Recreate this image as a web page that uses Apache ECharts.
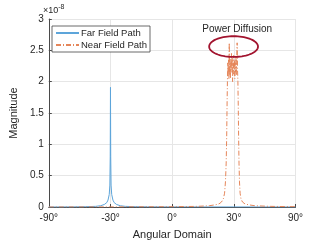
<!DOCTYPE html>
<html>
<head>
<meta charset="utf-8">
<script src="https://cdn.jsdelivr.net/npm/echarts@6/dist/echarts.min.js"></script>
<style>
html,body{margin:0;padding:0;background:#fff;}
#c{width:327px;height:245px;}
</style>
</head>
<body>
<div id="c"></div>
<script>
// x positions are in sin(angle) domain; magnitudes in units of 1e-8
const farX = [-1.0,-0.8,-0.7,-0.62,-0.58,-0.55,-0.53,-0.52,-0.51,-0.505,-0.502,-0.5,-0.498,-0.495,-0.49,-0.48,-0.47,-0.45,-0.42,-0.38,-0.3,-0.2,0.0,0.5,1.0];
const farY = [0.0,0.002,0.005,0.01,0.02,0.04,0.07,0.11,0.2,0.35,0.8,1.91,0.8,0.35,0.2,0.11,0.07,0.04,0.02,0.01,0.005,0.003,0.001,0.001,0.0];

const nearX = [-1.0,-0.5,0.0,0.2,0.3,0.35,0.38,0.4,0.415,0.425,0.432,0.438,0.442,0.445,0.448,0.451,0.454,0.457,0.46,0.463,0.466,0.469,0.472,0.475,0.478,0.481,0.484,0.487,0.49,0.493,0.496,0.499,0.502,0.505,0.508,0.511,0.514,0.517,0.52,0.523,0.527,0.53,0.533,0.536,0.539,0.542,0.546,0.551,0.558,0.57,0.59,0.62,0.67,0.8,1.0];
const nearY = [0.0,0.002,0.005,0.01,0.02,0.035,0.05,0.08,0.13,0.22,0.4,0.7,1.1,1.6,2.0,2.3,2.1,2.35,2.05,2.62,2.1,2.4,2.05,2.3,2.15,2.45,2.2,2.38,2.0,2.3,2.12,2.42,2.18,2.35,2.05,2.3,2.15,2.42,2.1,2.3,2.62,2.2,2.0,1.6,1.1,0.7,0.4,0.22,0.13,0.08,0.05,0.035,0.02,0.01,0.005];

const xTickValues = [-1, -0.5, 0, 0.5, 1];
const xTickLabels = ['-90°', '-30°', '0°', '30°', '90°'];
const yTickLabels = ['0', '0.5', '1', '1.5', '2', '2.5', '3'];

const seriesNames = ['Far Field Path', 'Near Field Path'];
const annotation = {text: 'Power Diffusion', textX: 0.527, textY: 2.84, cx: 0.498, cy: 2.56, rx: 0.198, ry: 0.165};

const farData = farX.map((x, i) => [x, farY[i]]);
const nearData = nearX.map((x, i) => [x, nearY[i]]);

const chart = echarts.init(document.getElementById('c'), null, {renderer: 'canvas'});
const FONT = 'Liberation Sans, Arial, sans-serif';
const TXT = '#262626';

chart.setOption({
  animation: false,
  backgroundColor: '#fff',
  grid: {left: 43, right: 31.5, top: 19, bottom: 35, containLabel: false},
  legend: {
    data: seriesNames,
    orient: 'vertical',
    left: 52, top: 26,
    padding: [2, 3, 2, 3],
    itemWidth: 23, itemHeight: 8, itemGap: 2,
    backgroundColor: '#fff',
    borderColor: '#444', borderWidth: 0.8,
    itemStyle: {opacity: 0},
    textStyle: {fontFamily: FONT, fontSize: 9.5, color: TXT, padding: [0, 0, 0, -3]}
  },
  xAxis: {
    type: 'value', min: -1, max: 1, interval: 0.5,
    name: 'Angular Domain', nameLocation: 'middle', nameGap: 22,
    nameTextStyle: {fontFamily: FONT, fontSize: 11, color: TXT},
    axisLine: {onZero: false, lineStyle: {color: '#4a4a4a', width: 1}},
    axisTick: {inside: true, length: 3, lineStyle: {color: '#4a4a4a'}},
    axisLabel: {fontFamily: FONT, fontSize: 10, color: TXT, margin: 6,
      formatter: v => { const i = xTickValues.findIndex(t => Math.abs(t - v) < 1e-9); return i >= 0 ? xTickLabels[i] : ''; }},
    splitLine: {show: true, lineStyle: {color: '#e6e6e6', width: 1}}
  },
  yAxis: {
    type: 'value', min: 0, max: 3, interval: 0.5,
    name: 'Magnitude', nameLocation: 'middle', nameGap: 24,
    nameTextStyle: {fontFamily: FONT, fontSize: 11, color: TXT},
    axisLine: {show: true, onZero: false, lineStyle: {color: '#4a4a4a', width: 1}},
    axisTick: {show: true, inside: true, length: 3, lineStyle: {color: '#4a4a4a'}},
    axisLabel: {fontFamily: FONT, fontSize: 10, color: TXT, margin: 5,
      formatter: v => yTickLabels[Math.round(v / 0.5)]},
    splitLine: {show: true, lineStyle: {color: '#e6e6e6', width: 1}}
  },
  graphic: [{
    type: 'text', left: 43, top: 4,
    style: {
      text: '{a|×10}{b|-8}',
      rich: {
        a: {fontFamily: FONT, fontSize: 9, fill: TXT},
        b: {fontFamily: FONT, fontSize: 7, fill: TXT, verticalAlign: 'top', padding: [0, 0, 6, 0]}
      }
    }
  }],
  series: [
    {
      name: seriesNames[0], type: 'line', data: farData, showSymbol: false, symbol: 'none',
      lineStyle: {color: '#5DA5DA', width: 1}, itemStyle: {color: '#5DA5DA'}, z: 2
    },
    {
      name: seriesNames[1], type: 'line', data: nearData, showSymbol: false, symbol: 'none',
      lineStyle: {color: '#E5865A', width: 1, type: [5, 2, 1, 2]}, itemStyle: {color: '#E5865A'}, z: 3
    },
    {
      type: 'custom', silent: true, z: 5,
      data: [[annotation.cx, annotation.cy, annotation.rx, annotation.ry, annotation.textX, annotation.textY]],
      renderItem: function (params, api) {
        const c = api.coord([api.value(0), api.value(1)]);
        const s = api.size([api.value(2), api.value(3)]);
        const t = api.coord([api.value(4), api.value(5)]);
        const pts = [];
        for (let k = 0; k < 72; k++) {
          const a = k / 72 * Math.PI * 2;
          pts.push([c[0] + s[0] * Math.cos(a), c[1] + s[1] * Math.sin(a)]);
        }
        return {
          type: 'group',
          children: [
            {type: 'polygon', shape: {points: pts}, style: {fill: 'none', stroke: '#A2142F', lineWidth: 1.8}},
            {type: 'text', style: {text: annotation.text, x: t[0], y: t[1], align: 'center', verticalAlign: 'middle',
              font: '10px ' + FONT, fill: TXT}}
          ]
        };
      }
    }
  ]
});
</script>
</body>
</html>
